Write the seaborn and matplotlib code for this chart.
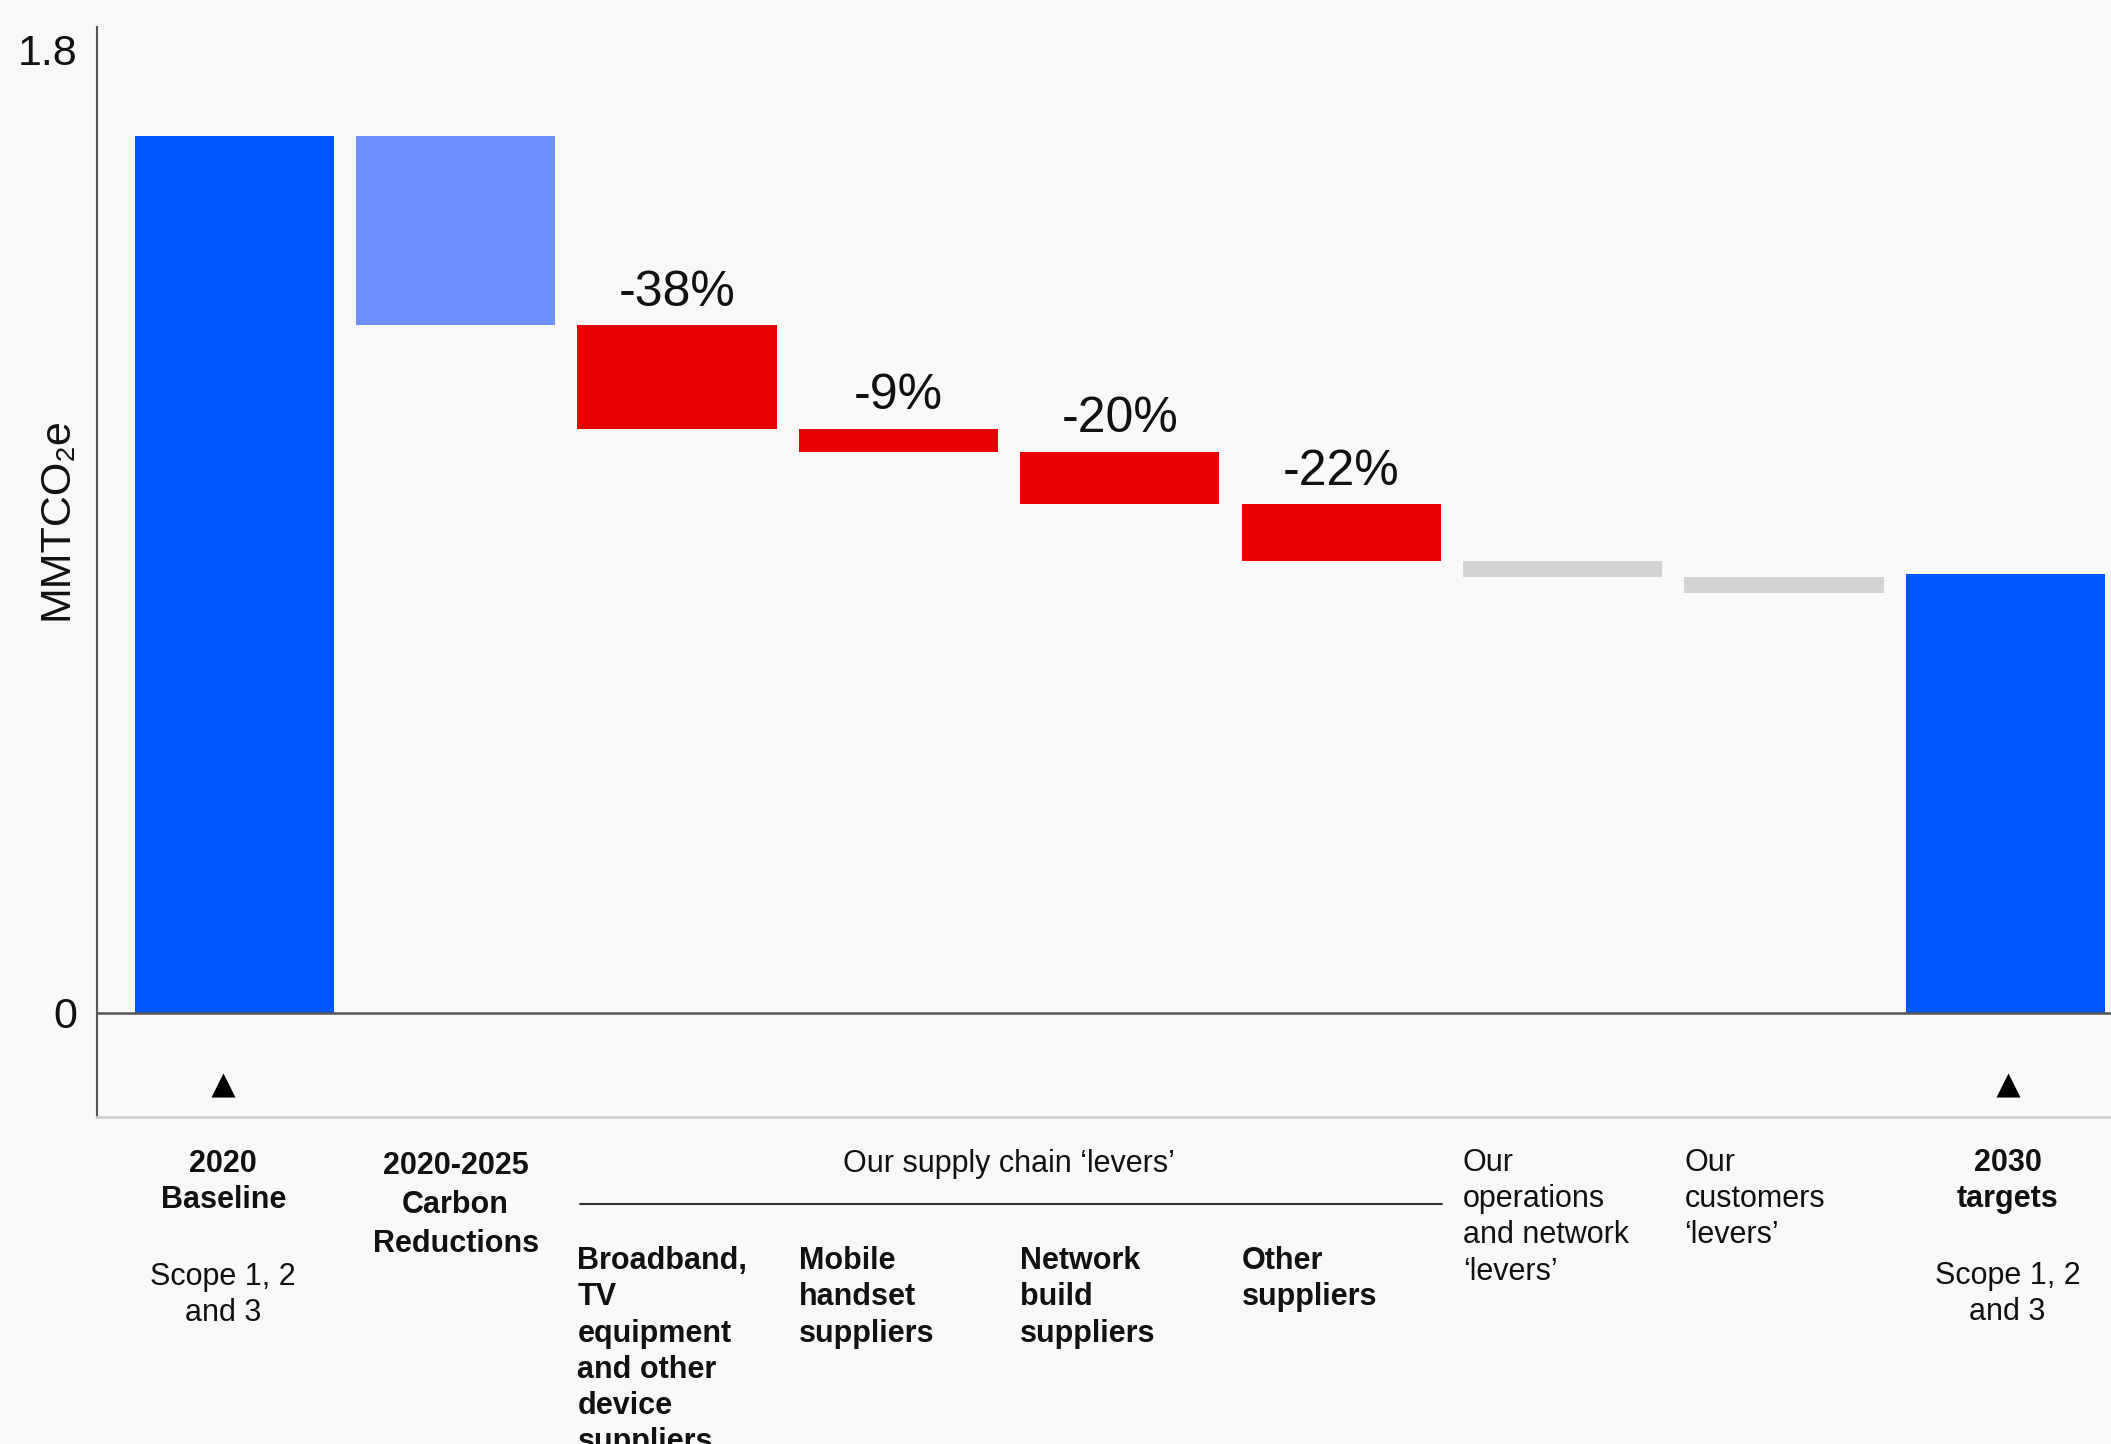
import matplotlib
matplotlib.use("Agg")
import matplotlib.pyplot as plt
import seaborn as sns
import numpy as np

# ---- data -------------------------------------------------------------
categories = [
    "2020 Baseline",
    "2020-2025 Carbon Reductions",
    "Broadband, TV equipment and other device suppliers",
    "Mobile handset suppliers",
    "Network build suppliers",
    "Other suppliers",
    "Our operations and network levers",
    "Our customers levers",
    "2030 targets",
]
baseline_2020 = 1.64                      # MMTCO2e
step_changes = [-0.355, -0.193, -0.043, -0.098, -0.106, -0.030, -0.030]
target_2030 = 0.82
supply_chain_pct = ["-38%", "-9%", "-20%", "-22%"]
bar_colors = ["#0057FF", "#6E8FFF", "#E60000", "#E60000", "#E60000",
              "#E60000", "#D3D3D3", "#D3D3D3", "#0057FF"]
y_ticks = [0, 1.8]
y_tick_labels = ["0", "1.8"]

# ---- waterfall geometry ----------------------------------------------
levels = baseline_2020 + np.cumsum(step_changes)
heights = [baseline_2020] + [-c for c in step_changes] + [target_2030]
bottoms = [0.0] + list(levels) + [0.0]

# ---- style -----------------------------------------------------------
sns.set_style("white")
BG = "#F8F8F8"
plt.rcParams["font.family"] = ["Liberation Sans", "DejaVu Sans"]
plt.rcParams["axes.facecolor"] = BG
plt.rcParams["figure.facecolor"] = BG

fig = plt.figure(figsize=(21.11, 14.44), dpi=100)
ax = fig.add_axes([97 / 2111, (1444 - 1117) / 1444, (2111 - 97) / 2111, (1117 - 27) / 1444])

sns.barplot(x=categories, y=heights, hue=categories, palette=bar_colors,
            width=0.9, saturation=1, legend=False, linewidth=0, ax=ax)

# lift each floating bar onto its waterfall level
for patch, b in zip(ax.patches, bottoms):
    patch.set_y(b)

ax.set_xlim(-0.62, 8.477)
ax.set_ylim(-0.195, 1.843)

# axes frame
for side in ("top", "right"):
    ax.spines[side].set_visible(False)
ax.spines["left"].set_color("#555555")
ax.spines["left"].set_linewidth(1.5)
ax.spines["bottom"].set_color("#CFCFCF")
ax.spines["bottom"].set_linewidth(2)
ax.axhline(0, color="#555555", lw=1.8, zorder=3)

ax.set_xticks([])
ax.set_xlabel("")
ax.set_yticks(y_ticks)
ax.set_yticklabels(y_tick_labels)
ax.tick_params(axis="y", length=0, pad=14, labelsize=31, labelcolor="#111111")

ax.set_ylabel("MMTCO₂e", fontsize=31, color="#111111")
ax.yaxis.label.set_verticalalignment("center")
ax.yaxis.set_label_coords(-0.0201, 0.549)

# percentage labels over the supply-chain bars
for i, lab in zip(range(2, 6), supply_chain_pct):
    top = bottoms[i] + heights[i]
    ax.annotate(lab, (i, top), xytext=(0, 14), textcoords="offset points",
                ha="center", va="baseline", fontsize=36, color="#111111")

# markers under the baseline and target bars
ax.scatter([-0.05, 8.01], [-0.136, -0.136], marker="^", s=300,
           color="black", linewidths=0, zorder=4, clip_on=False)

# ---- category labels below the axis -----------------------------------
tr = ax.get_xaxis_transform()
FS = 22
LS = 1.27
txt = dict(transform=tr, fontsize=FS, color="#111111", va="top", clip_on=False)

ax.text(-0.05, -0.0296, "2020\nBaseline", ha="center", fontweight="bold",
        linespacing=LS, **txt)
ax.text(-0.05, -0.133, "Scope 1, 2\nand 3", ha="center", linespacing=LS, **txt)

ax.text(1.0, -0.031, "2020-2025\nCarbon\nReductions", ha="center",
        fontweight="bold", linespacing=1.4, **txt)

ax.text(3.50, -0.0296, "Our supply chain ‘levers’", ha="center", **txt)
ax.plot([1.562, 5.453], [-0.080, -0.080], transform=tr, color="#333333",
        lw=1.5, clip_on=False)

supplier_labels = [
    "Broadband,\nTV\nequipment\nand other\ndevice\nsuppliers",
    "Mobile\nhandset\nsuppliers",
    "Network\nbuild\nsuppliers",
    "Other\nsuppliers",
]
for i, lab in zip(range(2, 6), supplier_labels):
    ax.text(i - 0.45, -0.1185, lab, ha="left", fontweight="bold",
            linespacing=LS, **txt)

ax.text(6 - 0.45, -0.0284, "Our\noperations\nand network\n‘levers’",
        ha="left", linespacing=LS, **txt)
ax.text(7 - 0.45, -0.0284, "Our\ncustomers\n‘levers’",
        ha="left", linespacing=LS, **txt)

ax.text(8.01, -0.0284, "2030\ntargets", ha="center", fontweight="bold",
        linespacing=LS, **txt)
ax.text(8.01, -0.132, "Scope 1, 2\nand 3", ha="center", linespacing=LS, **txt)

fig.savefig("out.png", dpi=100, facecolor=BG)
